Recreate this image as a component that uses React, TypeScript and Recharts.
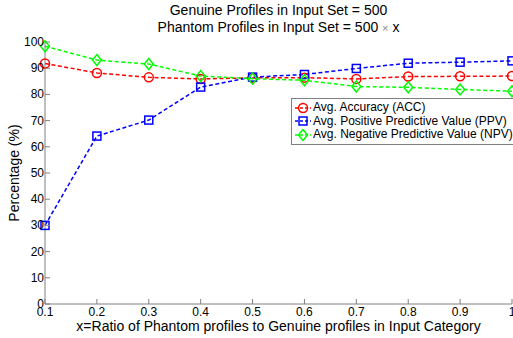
import React from 'react';
import { LineChart, Line, XAxis, YAxis } from 'recharts';

const ratios = [0.1, 0.2, 0.3, 0.4, 0.5, 0.6, 0.7, 0.8, 0.9, 1.0];
const accuracy = [91.8, 88.2, 86.5, 85.9, 86.3, 86.4, 85.9, 86.8, 86.9, 87.0];
const ppv = [30.0, 64.1, 70.2, 82.8, 86.6, 87.6, 89.9, 91.9, 92.3, 92.8];
const npv = [98.4, 93.1, 91.6, 87.0, 86.0, 85.4, 83.0, 82.7, 81.9, 81.2];
const yTicks = [0, 10, 20, 30, 40, 50, 60, 70, 80, 90, 100];

const data = ratios.map((r, i) => ({
  x: r,
  acc: accuracy[i],
  ppv: ppv[i],
  npv: npv[i],
}));

const FONT = '"Liberation Sans", Arial, sans-serif';
const AXIS_GRAY = '#808080';

const series = [
  { key: 'acc', name: 'Avg. Accuracy (ACC)', color: '#ff0000', shape: 'circle' },
  { key: 'ppv', name: 'Avg. Positive Predictive Value (PPV)', color: '#0000ff', shape: 'square' },
  { key: 'npv', name: 'Avg. Negative Predictive Value (NPV)', color: '#00ff00', shape: 'diamond' },
];

const Marker = ({ cx, cy, color, shape }: any) => {
  if (cx == null || cy == null) return null;
  if (shape === 'circle') {
    return <circle cx={cx} cy={cy} r={4.5} fill="none" stroke={color} strokeWidth={1.5} />;
  }
  if (shape === 'square') {
    return <rect x={cx - 4} y={cy - 4} width={8} height={8} fill="none" stroke={color} strokeWidth={1.5} />;
  }
  return (
    <polygon
      points={`${cx},${cy - 5.5} ${cx + 4.5},${cy} ${cx},${cy + 5.5} ${cx - 4.5},${cy}`}
      fill="none"
      stroke={color}
      strokeWidth={1.5}
    />
  );
};

const BottomTick = ({ x, y, payload }: any) => (
  <g>
    <line x1={x} y1={y} x2={x} y2={y - 5} stroke={AXIS_GRAY} />
    <text x={x} y={y + 12} textAnchor="middle" fontSize={12} fontFamily={FONT} fill="#000">
      {payload.value === 1 ? '1' : payload.value.toFixed(1)}
    </text>
  </g>
);

const TopTick = ({ x, y }: any) => (
  <line x1={x} y1={y} x2={x} y2={y + 5} stroke={AXIS_GRAY} />
);

const LeftTick = ({ x, y, payload }: any) => (
  <g>
    <line x1={x} y1={y} x2={x + 5} y2={y} stroke={AXIS_GRAY} />
    <text x={x - 1} y={y + 4} textAnchor="end" fontSize={12} fontFamily={FONT} fill="#000">
      {payload.value}
    </text>
  </g>
);

const RightTick = ({ x, y }: any) => (
  <line x1={x} y1={y} x2={x - 5} y2={y} stroke={AXIS_GRAY} />
);

const LegendBox = () => (
  <div
    style={{
      position: 'absolute',
      left: 291,
      top: 98,
      border: `1px solid ${AXIS_GRAY}`,
      background: '#fff',
      padding: '2px 6px 2px 3px',
      fontFamily: FONT,
      fontSize: 12,
      lineHeight: '13.5px',
    }}
  >
    {series.map((s) => (
      <div key={s.key} style={{ display: 'flex', alignItems: 'center', whiteSpace: 'nowrap' }}>
        <svg width={16} height={12} style={{ marginRight: 2, flexShrink: 0 }}>
          <line x1={0} y1={6} x2={16} y2={6} stroke={s.color} strokeWidth={1.5} strokeDasharray="3 2" />
          <Marker cx={8} cy={6} color={s.color} shape={s.shape} />
        </svg>
        <span>{s.name}</span>
      </div>
    ))}
  </div>
);

export default function App() {
  return (
    <div style={{ position: 'absolute', left: 0, top: 0, width: 513, height: 338, background: '#fff', fontFamily: FONT }}>
      <div style={{ position: 'absolute', left: 45, width: 467, top: 2, textAlign: 'center', fontSize: 14, lineHeight: '17px' }}>
        Genuine Profiles in Input Set = 500
        <br />
        Phantom Profiles in Input Set = 500 <span style={{ color: '#888', fontSize: 11 }}>×</span> x
      </div>
      <div
        style={{
          position: 'absolute',
          left: 14,
          top: 173,
          transform: 'translate(-50%, -50%) rotate(-90deg)',
          fontSize: 14,
          whiteSpace: 'nowrap',
        }}
      >
        Percentage (%)
      </div>
      <div style={{ position: 'absolute', left: 45, width: 467, top: 318, textAlign: 'center', fontSize: 14, lineHeight: '16px' }}>
        x=Ratio of Phantom profiles to Genuine profiles in Input Category
      </div>
      <div style={{ position: 'absolute', left: 0, top: 0 }}>
        <LineChart width={513} height={338} data={data} margin={{ top: 42, right: 1, bottom: 0, left: 0 }}>
          <XAxis
            dataKey="x"
            type="number"
            domain={[0.1, 1]}
            ticks={ratios}
            height={34}
            tickSize={0}
            tickMargin={0}
            tickLine={false}
            tick={<BottomTick />}
            stroke={AXIS_GRAY}
            interval={0}
          />
          <XAxis
            xAxisId="top"
            orientation="top"
            dataKey="x"
            type="number"
            domain={[0.1, 1]}
            ticks={ratios}
            height={0}
            tickSize={0}
            tickMargin={0}
            tickLine={false}
            tick={<TopTick />}
            stroke={AXIS_GRAY}
            interval={0}
          />
          <YAxis
            type="number"
            domain={[0, 100]}
            ticks={yTicks}
            width={45}
            tickSize={0}
            tickMargin={0}
            tickLine={false}
            tick={<LeftTick />}
            stroke={AXIS_GRAY}
            interval={0}
          />
          <YAxis
            yAxisId="right"
            orientation="right"
            type="number"
            domain={[0, 100]}
            ticks={yTicks}
            width={0}
            tickSize={0}
            tickMargin={0}
            tickLine={false}
            tick={<RightTick />}
            stroke={AXIS_GRAY}
            interval={0}
          />
          {series.map((s) => (
            <Line
              key={s.key}
              dataKey={s.key}
              name={s.name}
              stroke={s.color}
              strokeWidth={1.5}
              strokeDasharray="4 2.5"
              isAnimationActive={false}
              dot={(p: any) => <Marker key={`${s.key}-${p.index}`} cx={p.cx} cy={p.cy} color={s.color} shape={s.shape} />}
            />
          ))}
        </LineChart>
      </div>
      <LegendBox />
    </div>
  );
}
